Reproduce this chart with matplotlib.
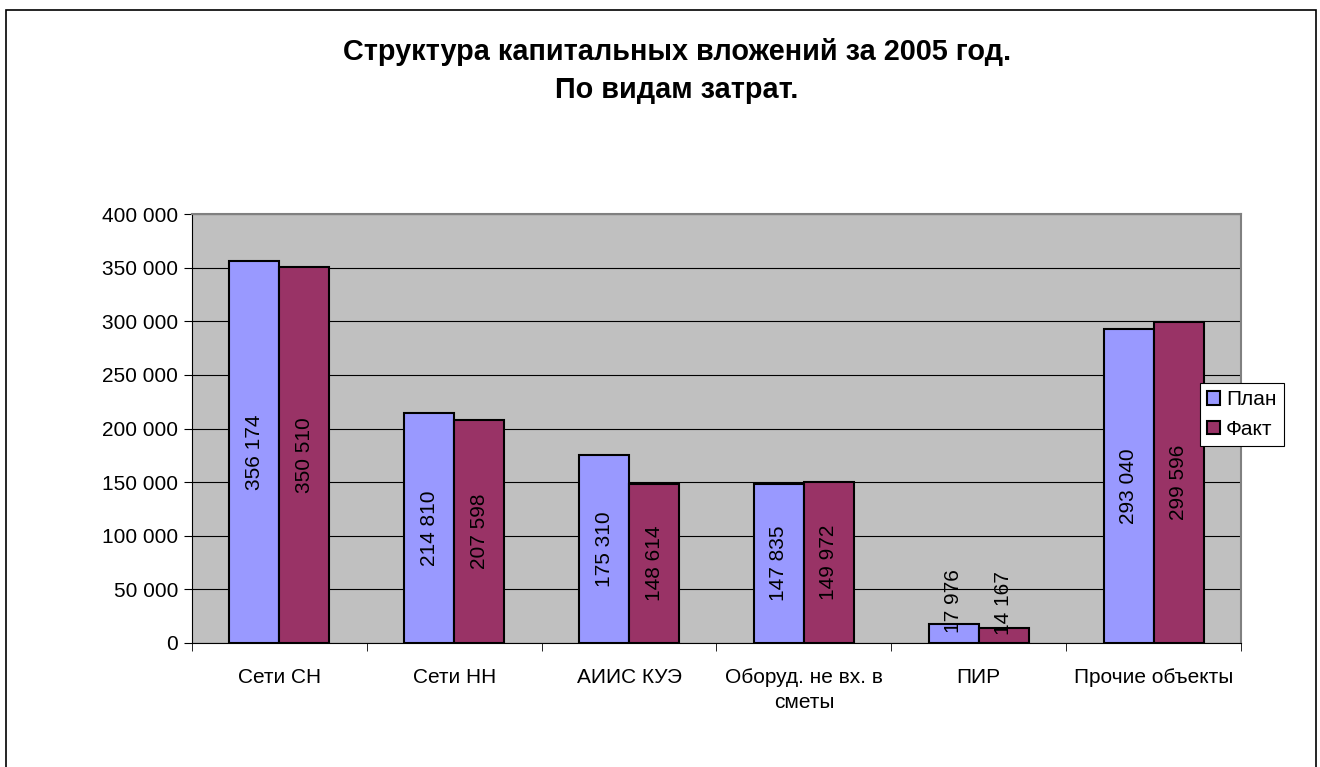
import matplotlib
matplotlib.use("Agg")
import matplotlib.pyplot as plt
from matplotlib.patches import Rectangle
import numpy as np

plt.rcParams["font.family"] = ["Liberation Sans", "DejaVu Sans"]

categories = ["Сети СН", "Сети НН", "АИИС КУЭ", "Оборуд. не вх. в\nсметы", "ПИР", "Прочие объекты"]
plan = [356174, 214810, 175310, 147835, 17976, 293040]
fact = [350510, 207598, 148614, 149972, 14167, 299596]
series_names = ["План", "Факт"]
yticks = [0, 50000, 100000, 150000, 200000, 250000, 300000, 350000, 400000]

PLAN_COLOR = "#9999FF"
FACT_COLOR = "#993366"
FS = 15


def fmt(v):
    return f"{v:,}".replace(",", " ")


fig = plt.figure(figsize=(13.2, 7.67), dpi=100)
fig.patches.append(Rectangle((6 / 1320, -0.1), 1310 / 1320, 1.1 - 10 / 767,
                             transform=fig.transFigure, fill=False,
                             edgecolor="black", linewidth=1.2))

ax = fig.add_axes([192 / 1320, 1 - 643 / 767, 1049 / 1320, 429 / 767])
ax.set_facecolor("#C0C0C0")

x = np.arange(len(categories))
w = 1 / 3.5
b1 = ax.bar(x - w / 2, plan, w, color=PLAN_COLOR, edgecolor="black", linewidth=1.5, label=series_names[0], zorder=3)
b2 = ax.bar(x + w / 2, fact, w, color=FACT_COLOR, edgecolor="black", linewidth=1.5, label=series_names[1], zorder=3)

# подписи значений внутри столбиков, повернутые на 90 градусов
for xs, vals in [(x - w / 2, plan), (x + w / 2, fact)]:
    for xi, v in zip(xs, vals):
        va = "bottom" if v < 60000 else "center"
        ax.text(xi, v / 2, fmt(v), rotation=90, ha="center", va=va, fontsize=FS, zorder=4)

ax.set_xlim(-0.5, len(categories) - 0.5)
ax.set_ylim(0, 400000)
ax.set_yticks(yticks)
ax.set_yticklabels([fmt(t) for t in yticks], fontsize=FS)
ax.yaxis.grid(True, color="black", linewidth=0.8, zorder=1)
ax.set_axisbelow(True)

ax.set_xticks(x)
ax.set_xticklabels(categories, fontsize=FS, linespacing=1.4, va="top")
ax.tick_params(axis="x", length=0, pad=18)
ax.set_xticks(np.arange(len(categories) + 1) - 0.5, minor=True)
ax.tick_params(axis="x", which="minor", length=6, color="black")
ax.tick_params(axis="y", length=6, color="black", pad=4)

for side in ["top", "right"]:
    ax.spines[side].set_color("#808080")
    ax.spines[side].set_linewidth(1.5)
ax.spines["left"].set_color("black")
ax.spines["bottom"].set_color("black")

fig.text(677 / 1320, 1 - 71 / 767, "Структура капитальных вложений за 2005 год.\nПо видам затрат.",
         ha="center", va="center", fontsize=20.8, fontweight="bold", linespacing=1.45)

leg = fig.legend(handles=[b1, b2], labels=series_names, loc="upper left",
                 bbox_to_anchor=(1200 / 1320, 1 - 383 / 767), fontsize=FS,
                 fancybox=False, framealpha=1, edgecolor="black",
                 handlelength=0.6, handleheight=0.6, handletextpad=0.3,
                 borderpad=0.35, labelspacing=0.5, borderaxespad=0)
leg.get_frame().set_linewidth(0.8)

fig.savefig("out.png", dpi=100)
